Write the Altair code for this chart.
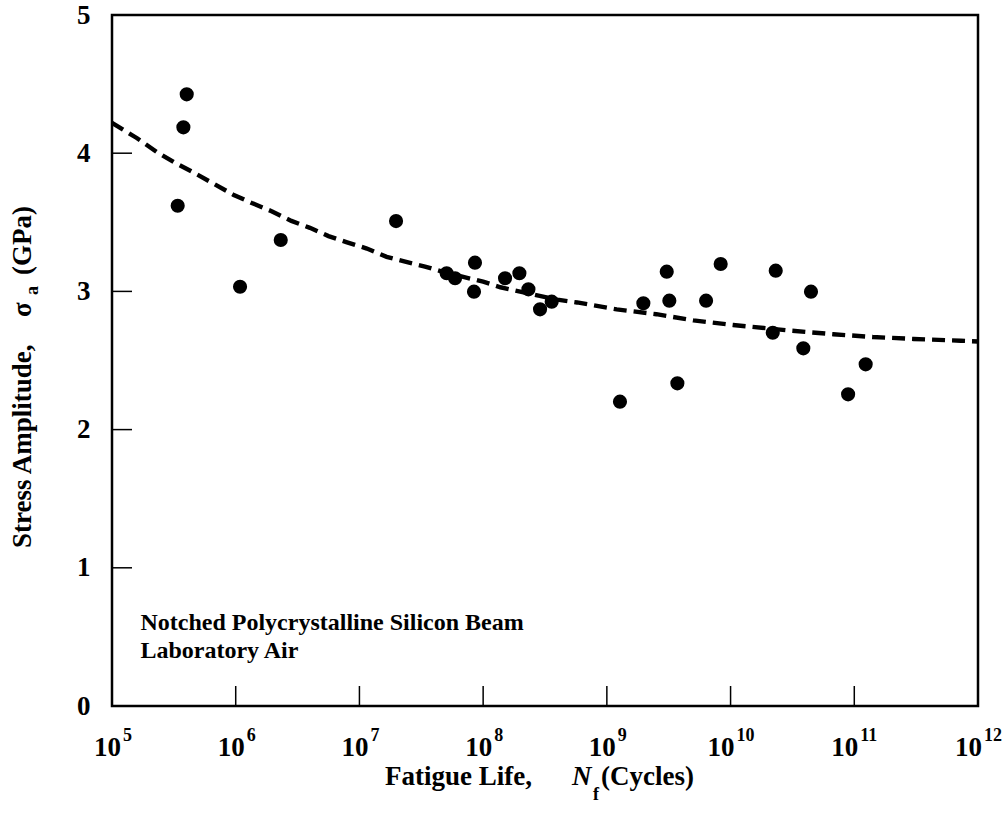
import altair as alt
import pandas as pd

# ---- data (x given as log10 of cycles) ----
pt_log_n = [5.604, 5.577, 5.531, 6.035, 6.364, 7.296, 7.705, 7.773, 7.934, 7.926,
            8.177, 8.293, 8.366, 8.460, 8.554, 9.106, 9.295, 9.484, 9.505, 9.570,
            9.802, 9.920, 10.341, 10.365, 10.588, 10.650, 10.950, 11.092]
pt_stress = [4.426, 4.187, 3.620, 3.034, 3.372, 3.509, 3.131, 3.095, 3.208, 2.998,
             3.095, 3.131, 3.015, 2.870, 2.926, 2.202, 2.914, 3.143, 2.933, 2.335,
             2.933, 3.198, 2.701, 3.150, 2.588, 2.998, 2.255, 2.472]

fit_log_n = [5.0, 5.2, 5.36, 5.51, 5.66, 5.82, 5.98, 6.13, 6.29, 6.45, 6.6, 6.75,
             6.9, 7.06, 7.22, 7.37, 7.53, 7.68, 8.0, 8.14, 8.6, 8.76, 9.08, 9.4,
             9.7, 10.02, 10.49, 10.83, 11.15, 11.48, 11.86, 12.0]
fit_stress = [4.22, 4.11, 4.01, 3.93, 3.86, 3.78, 3.70, 3.64, 3.58, 3.51, 3.46, 3.40,
              3.355, 3.31, 3.25, 3.215, 3.18, 3.14, 3.07, 3.03, 2.94, 2.92, 2.87, 2.835,
              2.79, 2.757, 2.716, 2.69, 2.67, 2.656, 2.643, 2.638]

x_tick_exps = [5, 6, 7, 8, 9, 10, 11, 12]
y_tick_vals = [0, 1, 2, 3, 4, 5]

annotation_lines = ["Notched Polycrystalline Silicon Beam", "Laboratory Air"]

# ---- tables ----
points = pd.DataFrame({"N": [10 ** v for v in pt_log_n], "s": pt_stress})
fit = pd.DataFrame({"N": [10 ** v for v in fit_log_n], "s": fit_stress})
xt = pd.DataFrame({"N": [10 ** e for e in x_tick_exps],
                   "exp": [str(e) for e in x_tick_exps],
                   "base": ["10"] * len(x_tick_exps),
                   "wide": [e >= 10 for e in x_tick_exps]})
yt = pd.DataFrame({"s": y_tick_vals})
ann = pd.DataFrame({"N": [10 ** 5.23] * 2, "s": [0.55, 0.35], "t": annotation_lines})

W, H = 866, 691
FONT = "Liberation Serif"
TICK_FS = 27
EXP_FS = 18
TITLE_FS = 27

xs = alt.Scale(type="log", domain=[1e5, 1e12], nice=False)
ys = alt.Scale(domain=[0, 5], nice=False, zero=False)

X = alt.X("N:Q", scale=xs, axis=None)
Y = alt.Y("s:Q", scale=ys, axis=alt.Axis(values=y_tick_vals, ticks=False, tickSize=0,
                                         domain=False, grid=False, title=None,
                                         labelFont=FONT, labelFontSize=TICK_FS,
                                         labelFontWeight="bold", labelColor="black",
                                         labelPadding=22, format="d"))

base_pts = alt.Chart(points).mark_circle(size=200, color="black", opacity=1).encode(x=X, y=Y)

curve = alt.Chart(fit).mark_line(color="black", strokeWidth=4.4, strokeDash=[13, 7]).encode(
    x=alt.X("N:Q", scale=xs, axis=None), y=alt.Y("s:Q", scale=ys))

xticks = alt.Chart(xt).mark_rule(color="black", strokeWidth=1.5).encode(
    x=alt.X("N:Q", scale=xs), y=alt.value(H - 20), y2=alt.value(H))
yticks = alt.Chart(yt).mark_rule(color="black", strokeWidth=1.5).encode(
    y=alt.Y("s:Q", scale=ys), x=alt.value(0), x2=alt.value(20))

def xlab(wide, base_dx, exp_dx):
    src = alt.Chart(xt).transform_filter(
        alt.datum.wide if wide else ~alt.datum.wide)
    b = src.mark_text(font=FONT, fontSize=TICK_FS, fontWeight="bold", align="right",
                      baseline="alphabetic", dx=base_dx, color="black").encode(
        x=alt.X("N:Q", scale=xs), y=alt.value(H + 50), text="base:N")
    e = src.mark_text(font=FONT, fontSize=EXP_FS, fontWeight="bold", align="left",
                      baseline="alphabetic", dx=exp_dx, color="black").encode(
        x=alt.X("N:Q", scale=xs), y=alt.value(H + 35), text="exp:N")
    return b + e

xlabels = xlab(False, 9, 11) + xlab(True, 4, 6)

annot = alt.Chart(ann).mark_text(font=FONT, fontSize=24, fontWeight="bold", align="left",
                                  baseline="alphabetic", color="black").encode(
    x=alt.X("N:Q", scale=xs), y=alt.Y("s:Q", scale=ys), text="t:N")

# ---- axis titles built from text pieces ----
def piece(text, x, y, size=TITLE_FS, style="normal", angle=0):
    return alt.Chart(pd.DataFrame({"t": [text]})).mark_text(
        font=FONT, fontSize=size, fontWeight="bold", fontStyle=style, align="left",
        baseline="alphabetic", angle=angle, color="black").encode(
        x=alt.value(x), y=alt.value(y), text="t:N")

xtitle = (piece("Fatigue Life,", 273, H + 79)
          + piece("N", 460, H + 79, style="italic")
          + piece("f", 481, H + 94, size=EXP_FS)
          + piece("(Cycles)", 489, H + 79))

ytitle = (piece("Stress Amplitude,", -81, 533, angle=270)
          + piece("\u03c3", -81, 302, angle=270)
          + piece("a", -74, 280, size=EXP_FS, angle=270)
          + piece("(GPa)", -81, 260, angle=270))

chart = alt.layer(base_pts, curve, xticks, yticks, xlabels, annot, xtitle, ytitle).properties(
    width=W, height=H,
    background="white",
    autosize=alt.AutoSizeParams(type="none"),
    padding={"left": 112, "top": 15, "right": 27, "bottom": 115},
).configure_view(stroke="black", strokeWidth=2.5)

chart.save("out.html", embed_options={"renderer": "svg", "actions": False})
